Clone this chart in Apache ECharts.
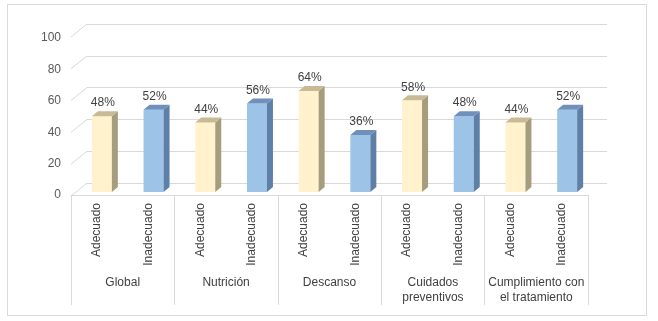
<!DOCTYPE html>
<html>
<head>
<meta charset="utf-8">
<script src="https://cdn.jsdelivr.net/npm/echarts@6/dist/echarts.min.js"></script>
<style>
  html, body { margin: 0; padding: 0; background: #fff; }
  #chart { width: 658px; height: 321px; }
</style>
</head>
<body>
<div id="chart"></div>
<script>
// datos del gráfico
var grupos = ["Global", "Nutrición", "Descanso", "Cuidados\npreventivos", "Cumplimiento con\nel tratamiento"];
var niveles = ["Adecuado", "Inadecuado"];
var adecuado = [48, 44, 64, 58, 44];
var inadecuado = [52, 56, 36, 48, 52];
var yTicks = [0, 20, 40, 60, 80, 100];

// 10 categorías: Adecuado / Inadecuado por grupo
var categorias = [];
grupos.forEach(function () {
  categorias.push(niveles[0], niveles[1]);
});

var fuente = "Liberation Sans";
var colorTexto = "#404040";
var colorLinea = "#D9D9D9";

// barra "3D" estilo Excel: cara frontal, lateral y superior
function barra3D(frente, lado, arriba) {
  return function (params, api) {
    var idx = api.value(0);
    var v = api.value(1);
    var top = api.coord([idx, v]);
    var base = api.coord([idx, 0]);
    var w = 20, dx = 6, dy = 5;
    var l = top[0] - w / 2, r = top[0] + w / 2;
    return {
      type: "group",
      children: [
        {
          type: "rect",
          shape: { x: l, y: top[1], width: w, height: base[1] - top[1] },
          style: { fill: frente }
        },
        {
          type: "polygon",
          shape: { points: [[r, top[1]], [r + dx, top[1] - dy], [r + dx, base[1] - dy], [r, base[1]]] },
          style: { fill: lado }
        },
        {
          type: "polygon",
          shape: { points: [[l, top[1]], [l + dx, top[1] - dy], [r + dx, top[1] - dy], [r, top[1]]] },
          style: { fill: arriba }
        },
        {
          type: "text",
          style: {
            text: v + "%",
            x: top[0] + 1,
            y: top[1] - dy - 2,
            align: "center",
            verticalAlign: "bottom",
            fontFamily: fuente,
            fontSize: 12,
            fill: colorTexto
          }
        }
      ]
    };
  };
}

var datosAdecuado = adecuado.map(function (v, i) { return [i * 2, v]; });
var datosInadecuado = inadecuado.map(function (v, i) { return [i * 2 + 1, v]; });

var chart = echarts.init(document.getElementById("chart"));

var option = {
  backgroundColor: "#fff",
  animation: false,
  graphic: [
    {
      type: "rect",
      shape: { x: 7.5, y: 4.5, width: 639, height: 311 },
      style: { fill: "none", stroke: colorLinea, lineWidth: 1 },
      silent: true
    }
  ],
  grid: [
    // ejes y etiquetas
    { left: 71, right: 70, top: 38, bottom: 126, outerBoundsMode: "none" },
    // barras
    { left: 76, right: 65, top: 34, bottom: 129, outerBoundsMode: "none" },
    // pared del fondo
    { left: 87, right: 51, top: 24, bottom: 138, outerBoundsMode: "none" }
  ],
  xAxis: [
    {
      gridIndex: 0,
      type: "category",
      position: "bottom",
      data: categorias,
      axisLine: { show: false },
      axisTick: { show: false },
      axisLabel: {
        interval: 0,
        rotate: 90,
        margin: 8,
        fontFamily: fuente,
        fontSize: 12,
        color: colorTexto
      }
    },
    {
      gridIndex: 0,
      type: "category",
      position: "bottom",
      data: grupos,
      axisLine: { show: true, lineStyle: { color: colorLinea } },
      axisTick: { show: true, interval: 0, length: 110, lineStyle: { color: colorLinea } },
      axisLabel: {
        interval: 0,
        margin: 80,
        lineHeight: 15,
        fontFamily: fuente,
        fontSize: 12,
        color: colorTexto
      }
    },
    {
      gridIndex: 1,
      type: "category",
      data: categorias,
      show: false
    },
    {
      gridIndex: 2,
      type: "value",
      min: 0,
      max: 1,
      show: false
    }
  ],
  yAxis: [
    {
      gridIndex: 0,
      type: "value",
      min: 0,
      max: 100,
      interval: 20,
      axisLine: { show: false },
      axisTick: { show: false },
      splitLine: { show: false },
      axisLabel: { margin: 10, fontFamily: fuente, fontSize: 12, color: "#595959" }
    },
    {
      gridIndex: 1,
      type: "value",
      min: 0,
      max: 100,
      interval: 20,
      show: false
    },
    {
      gridIndex: 2,
      type: "value",
      min: 0,
      max: 100,
      interval: 20,
      axisLine: { show: false },
      axisTick: { show: false },
      axisLabel: { show: false },
      splitLine: { show: true, lineStyle: { color: colorLinea } }
    }
  ],
  series: [
    {
      // tramos inclinados de la pared izquierda
      type: "custom",
      xAxisIndex: 3,
      yAxisIndex: 2,
      silent: true,
      z: 1,
      data: yTicks.map(function (t) { return [0, t]; }),
      renderItem: function (params, api) {
        var p = api.coord([0, api.value(1)]);
        return {
          type: "line",
          shape: { x1: p[0] - 16, y1: p[1] + 13, x2: p[0], y2: p[1] },
          style: { stroke: colorLinea, lineWidth: 1 }
        };
      }
    },
    {
      name: "Adecuado",
      type: "custom",
      xAxisIndex: 2,
      yAxisIndex: 1,
      z: 3,
      data: datosAdecuado,
      renderItem: barra3D("#FFF2CC", "#A69D7E", "#C8BA94")
    },
    {
      name: "Inadecuado",
      type: "custom",
      xAxisIndex: 2,
      yAxisIndex: 1,
      z: 3,
      data: datosInadecuado,
      renderItem: barra3D("#9DC3E6", "#5E7FA7", "#6E90BA")
    }
  ]
};

chart.setOption(option);
</script>
</body>
</html>
